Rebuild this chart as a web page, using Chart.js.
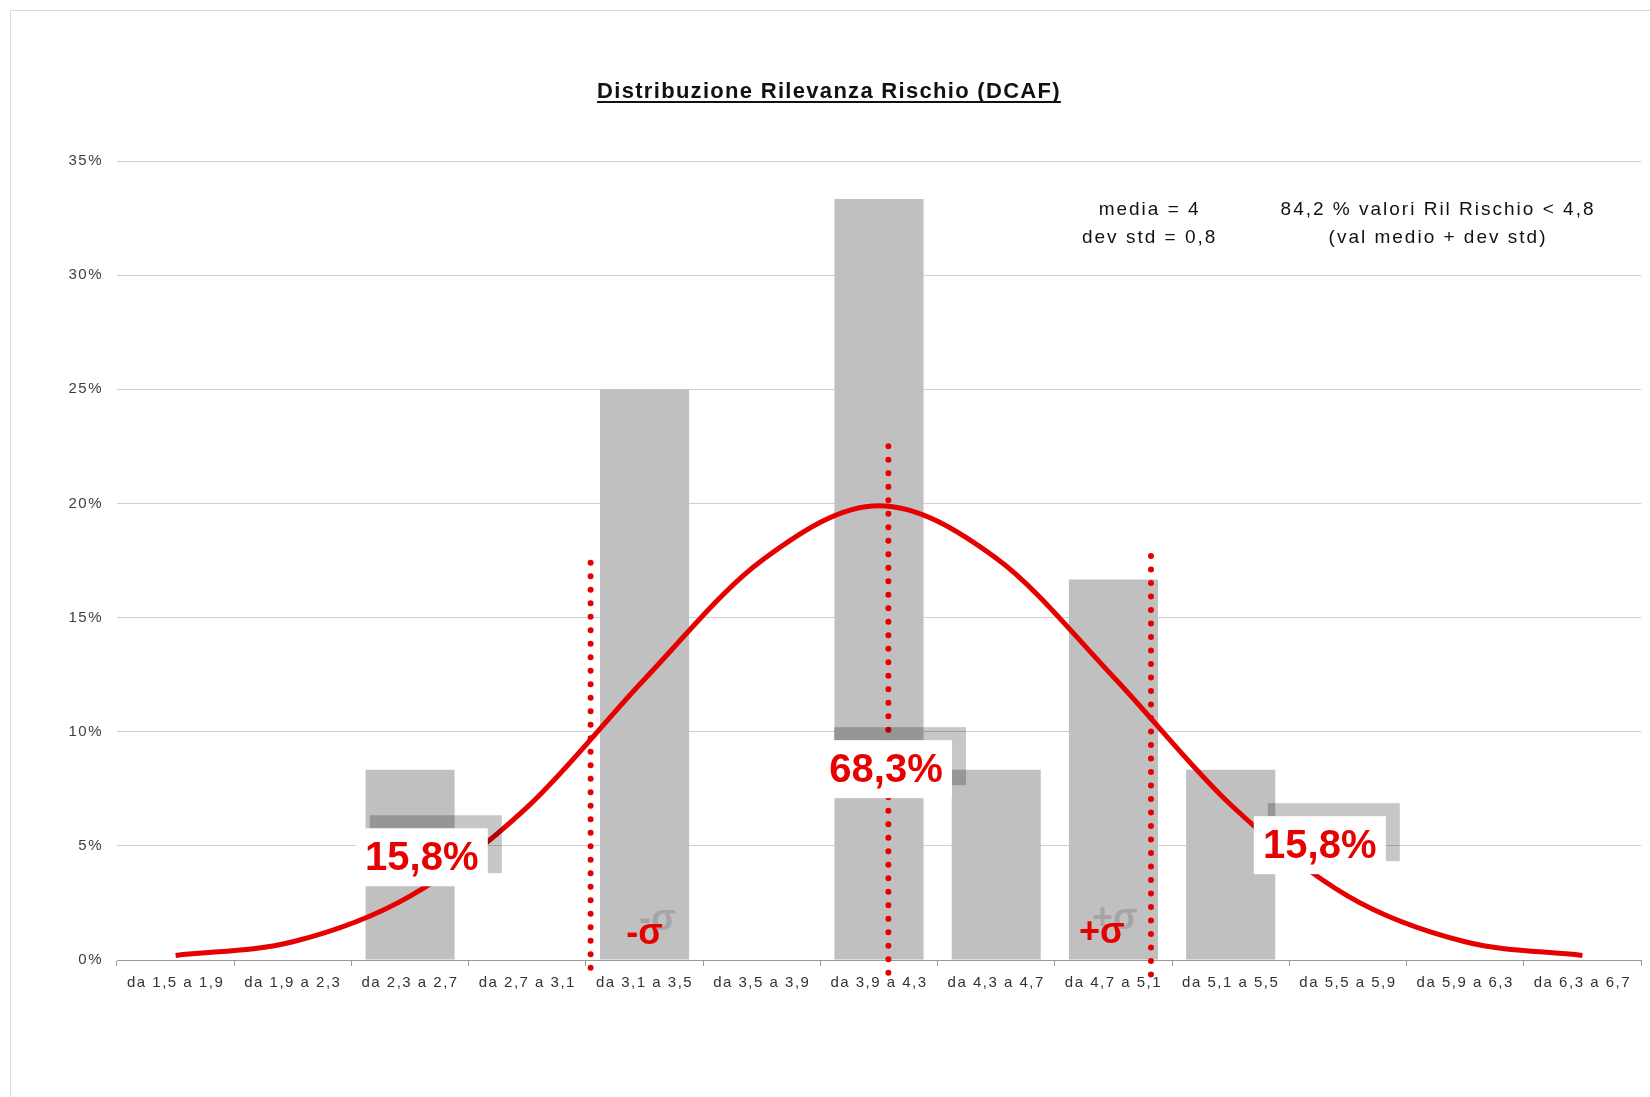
<!DOCTYPE html>
<html>
<head>
<meta charset="utf-8">
<script src="https://cdn.jsdelivr.net/npm/chart.js@4.4.1/dist/chart.umd.min.js"></script>
<style>
  body { margin: 0; background: #fff; }
  #wrap { position: absolute; left: 0; top: 0; width: 1650px; height: 1097px; overflow: hidden; }
  #frame { position: absolute; left: 10px; top: 10px; width: 1700px; height: 1200px; border: 1px solid #d9d9d9; }
  #chart--canva { position: absolute; left: 0; top: 0; }
</style>
</head>
<body>
<div id="wrap">
  <div id="frame"></div>
  <canvas id="chart--canva" width="1650" height="1097"></canvas>
</div>
<script>
const categories = [
  "da 1,5 a 1,9", "da 1,9 a 2,3", "da 2,3 a 2,7", "da 2,7 a 3,1", "da 3,1 a 3,5",
  "da 3,5 a 3,9", "da 3,9 a 4,3", "da 4,3 a 4,7", "da 4,7 a 5,1", "da 5,1 a 5,5",
  "da 5,5 a 5,9", "da 5,9 a 6,3", "da 6,3 a 6,7",
];
// frequenze osservate (%)
const freqValues = [0, 0, 8.33, 0, 25, 0, 33.33, 8.33, 16.67, 8.33, 0, 0, 0];
// curva normale (%)
const curveValues = [0.2, 0.8, 2.8, 6.7, 12.3, 17.5, 19.9, 17.6, 12.4, 6.8, 2.8, 0.8, 0.2];

// linee tratteggiate -sigma / media / +sigma (posizione in indice categoria)
const sigmaLinePos = [3.54, 6.08, 8.32];
const sigmaLineTop = [17.4, 22.5, 17.7];
const sigmaLineBottom = -0.8;

// etichette percentuali
const pctLabels = ["15,8%", "68,3%", "15,8%"];
const pctLabelX = [2.10, 6.06, 9.76];
const pctLabelY = [4.5, 8.36, 5.03];

const sigmaLabels = ["-σ", "+σ"];
const sigmaLabelX = [4.0, 7.9];
const sigmaLabelY = [1.14, 1.18];

const infoLines = [["media = 4", "dev std = 0,8"], ["84,2 % valori Ril Rischio < 4,8", "(val medio + dev std)"]];
const infoX = [8.30, 10.76];
const infoY = [32.85, 31.65];

const titleText = "Distribuzione Rilevanza Rischio (DCAF)";

const RED = "#e60000";
const FONT = "'Liberation Sans', Arial, sans-serif";

const sigmaDatasets = sigmaLinePos.map((x, i) => ({
  type: "line",
  xAxisID: "xl",
  data: [{ x, y: sigmaLineTop[i] }, { x, y: sigmaLineBottom }],
  borderColor: RED,
  borderWidth: 6,
  borderDash: [0, 13.5],
  borderCapStyle: "round",
  pointRadius: 0,
  clip: false,
  order: 1,
}));

const spacingPlugin = {
  id: "spacing",
  beforeDraw(chart) {
    chart.ctx.letterSpacing = "1.5px";
  },
};

const overlayPlugin = {
  id: "overlay",
  afterDatasetsDraw(chart) {
    const ctx = chart.ctx;
    const xs = chart.scales.xl;
    const ys = chart.scales.y;
    ctx.save();
    ctx.letterSpacing = "0px";

    // -sigma / +sigma
    ctx.textAlign = "center";
    ctx.textBaseline = "middle";
    ctx.font = "bold 36px " + FONT;
    sigmaLabels.forEach((t, i) => {
      const px = xs.getPixelForValue(sigmaLabelX[i]);
      const py = ys.getPixelForValue(sigmaLabelY[i]);
      ctx.fillStyle = "rgba(150,150,150,0.65)";
      ctx.fillText(t, px + 13, py - 14);
      ctx.fillStyle = RED;
      ctx.fillText(t, px, py);
    });

    // riquadri percentuali
    ctx.font = "bold 40px " + FONT;
    pctLabels.forEach((t, i) => {
      const px = xs.getPixelForValue(pctLabelX[i]);
      const py = ys.getPixelForValue(pctLabelY[i]);
      const w = 132, h = 58;
      ctx.fillStyle = "rgba(0,0,0,0.22)";
      ctx.fillRect(px - w / 2 + 14, py - h / 2 - 13, w, h);
      ctx.fillStyle = "#fff";
      ctx.fillRect(px - w / 2, py - h / 2, w, h);
      ctx.fillStyle = RED;
      ctx.fillText(t, px, py + 2);
    });

    // testo informativo
    ctx.font = "19px " + FONT;
    ctx.letterSpacing = "2px";
    ctx.fillStyle = "#111";
    infoLines.forEach((lines, i) => {
      const px = xs.getPixelForValue(infoX[i]);
      lines.forEach((l, j) => {
        ctx.fillText(l, px + 1, ys.getPixelForValue(infoY[j]));
      });
    });

    // titolo sottolineato
    ctx.font = "bold 22px " + FONT;
    ctx.letterSpacing = "1.3px";
    ctx.textBaseline = "alphabetic";
    const tx = chart.width / 2 + 4;
    const ty = 98;
    ctx.fillText(titleText, tx, ty);
    const tw = ctx.measureText(titleText).width;
    ctx.fillRect(tx - tw / 2, ty + 3, tw, 2);

    ctx.restore();
  },
};

const ctx = document.querySelector("#chart--canva").getContext("2d");

new Chart(ctx, {
  type: "bar",
  data: {
    labels: categories,
    datasets: [
      {
        type: "bar",
        data: freqValues,
        backgroundColor: "#c0c0c0",
        barPercentage: 0.76,
        categoryPercentage: 1,
        grouped: false,
        order: 3,
      },
      {
        type: "line",
        data: curveValues,
        borderColor: RED,
        borderWidth: 5,
        cubicInterpolationMode: "monotone",
        pointRadius: 0,
        fill: false,
        order: 2,
      },
      ...sigmaDatasets,
    ],
  },
  options: {
    responsive: false,
    animation: false,
    layout: { padding: { top: 161, right: 9, bottom: 0, left: 0 } },
    plugins: {
      legend: { display: false },
      tooltip: { enabled: false },
    },
    scales: {
      x: {
        type: "category",
        offset: true,
        grid: { offset: true, drawOnChartArea: false, tickLength: 6, color: "#9a9a9a" },
        border: { color: "#9a9a9a" },
        ticks: { font: { family: FONT, size: 15 }, color: "#333", padding: 8, maxRotation: 0, autoSkip: false },
        afterFit: (s) => { s.height = 137; },
      },
      xl: {
        type: "linear",
        display: false,
        offset: false,
        grid: { offset: false },
        min: -0.5,
        max: 12.5,
      },
      y: {
        min: 0,
        max: 35,
        ticks: {
          stepSize: 5,
          padding: 14,
          font: { family: FONT, size: 15 },
          color: "#404040",
          callback: (v) => v + "%",
        },
        grid: { color: "#cfcfcf", drawTicks: false },
        border: { display: false },
        afterFit: (s) => { s.width = 117; },
      },
    },
  },
  plugins: [spacingPlugin, overlayPlugin],
});
</script>
</body>
</html>
